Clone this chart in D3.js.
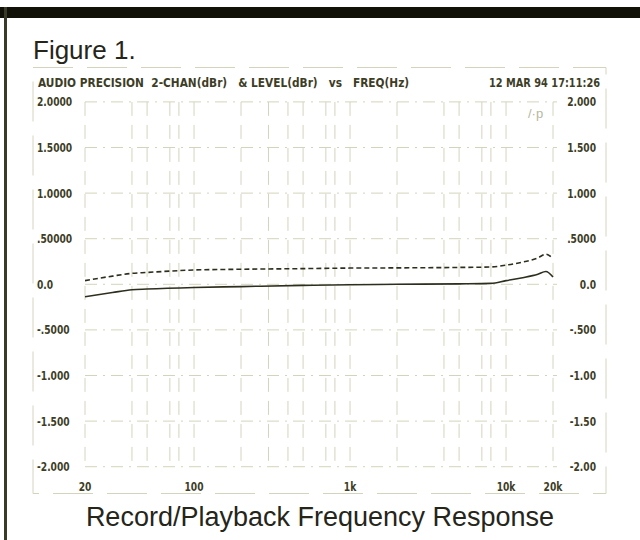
<!DOCTYPE html>
<html>
<head>
<meta charset="utf-8">
<script src="https://cdn.jsdelivr.net/npm/d3@7"></script>
<style>
  html, body { margin: 0; padding: 0; background: #ffffff; }
  svg { display: block; }
  .narrow { font-family: "Liberation Sans Narrow", "DejaVu Sans Condensed", "Arial Narrow", Arial, sans-serif; font-weight: bold; font-stretch: condensed; }
  .big { font-family: "Liberation Sans", Arial, Helvetica, sans-serif; }
</style>
</head>
<body>
<script>
// ---- data ----
const freqs  = [20, 30, 40, 50, 100, 200, 500, 1000, 2000, 5000, 8000, 10000, 12500, 16000, 18000, 20000];
const levelSolid  = [-0.136, -0.09, -0.06, -0.052, -0.035, -0.025, -0.012, -0.005, 0.0, 0.005, 0.01, 0.04, 0.07, 0.11, 0.14, 0.08];
const levelDashed = [0.04, 0.09, 0.12, 0.13, 0.157, 0.165, 0.172, 0.178, 0.18, 0.185, 0.19, 0.21, 0.24, 0.29, 0.33, 0.28];

const yTicks = [2, 1.5, 1, 0.5, 0, -0.5, -1, -1.5, -2];
const yLabelsLeft  = ["2.0000", "1.5000", "1.0000", ".50000", "0.0", "-.5000", "-1.000", "-1.500", "-2.000"];
const yLabelsRight = ["2.000", "1.500", "1.000", ".5000", "0.0", "-.500", "-1.00", "-1.50", "-2.00"];
const xTicks = [20, 100, 1000, 10000, 20000];
const xLabels = ["20", "100", "1k", "10k", "20k"];
const gridFreqs = [20, 40, 50, 70, 80, 100, 200, 300, 400, 500, 700, 800, 1000, 2000, 4000, 5000, 7000, 8000, 10000, 20000];

const headerText = "AUDIO PRECISION  2-CHAN(dBr)   & LEVEL(dBr)   vs   FREQ(Hz)";
const dateText = "12 MAR 94 17:11:26";
const figTitle = "Figure 1.";
const caption = "Record/Playback Frequency Response";

// ---- layout ----
const W = 640, H = 540;
const svg = d3.select("body").append("svg").attr("width", W).attr("height", H);
svg.append("rect").attr("width", W).attr("height", H).attr("fill", "#ffffff");

const x = d3.scaleLog().domain([20, 20000]).range([85, 553]);
const y = d3.scaleLinear().domain([-2, 2]).range([466.7, 101.9]);

const gridColor = "#d4d4bc";
const textColor = "#3d3d26";
const lineColor = "#2e2e1f";

// squeeze helper for condensed text
function squeeze(sel, factor) {
  sel.each(function () {
    const len = this.getComputedTextLength();
    d3.select(this).attr("textLength", len * factor).attr("lengthAdjust", "spacingAndGlyphs");
  });
}

// top black bar and left border
svg.append("rect").attr("x", 0).attr("y", 7).attr("width", W).attr("height", 11).attr("fill", "#111108");
svg.append("rect").attr("x", 4).attr("y", 7).attr("width", 3).attr("height", H - 7).attr("fill", "#3a3a28");

// outer dashed frame
svg.append("rect").attr("x", 33).attr("y", 67.5).attr("width", 573).attr("height", 426)
  .attr("fill", "none").attr("stroke", gridColor).attr("stroke-width", 1)
  .attr("stroke-dasharray", "40,14");

// grid
const g = svg.append("g");
g.selectAll("line.v").data(gridFreqs).join("line").attr("class", "v")
  .attr("x1", d => x(d)).attr("x2", d => x(d))
  .attr("y1", y(2)).attr("y2", y(-2))
  .attr("stroke", gridColor).attr("stroke-width", 1)
  .attr("stroke-dasharray", "14,9");
g.selectAll("line.h").data(yTicks).join("line").attr("class", "h")
  .attr("x1", x(20)).attr("x2", x(20000) + 4)
  .attr("y1", d => y(d)).attr("y2", d => y(d))
  .attr("stroke", gridColor).attr("stroke-width", 1)
  .attr("stroke-dasharray", "12,6,2,6");

// stray annotation
svg.append("text").attr("x", 528).attr("y", 118).attr("fill", "#b8b8a0")
  .attr("font-size", 13).attr("class", "big").text("/·p");

// header texts
svg.append("text").attr("class", "big").attr("x", 33).attr("y", 59)
  .attr("font-size", 26).attr("fill", "#25251a").text(figTitle);
const hdr = svg.append("text").attr("class", "narrow").attr("x", 38).attr("y", 87)
  .attr("font-size", 12.5).attr("fill", textColor)
  .style("white-space", "pre").text(headerText);
squeeze(hdr, 0.94);
const dt = svg.append("text").attr("class", "narrow").attr("x", 600).attr("y", 87)
  .attr("text-anchor", "end")
  .attr("font-size", 12.5).attr("fill", textColor).text(dateText);
squeeze(dt, 0.87);

// y labels
const yl = svg.selectAll("text.yl").data(yTicks).join("text").attr("class", "narrow yl")
  .attr("x", 37).attr("y", d => y(d)).attr("dy", "0.35em")
  .attr("font-size", 13).attr("fill", textColor)
  .text((d, i) => yLabelsLeft[i]);
squeeze(yl, 0.78);
const yr = svg.selectAll("text.yr").data(yTicks).join("text").attr("class", "narrow yr")
  .attr("x", 596).attr("y", d => y(d)).attr("dy", "0.35em")
  .attr("text-anchor", "end")
  .attr("font-size", 13).attr("fill", textColor)
  .text((d, i) => yLabelsRight[i]);
squeeze(yr, 0.78);

// x labels
const xl = svg.selectAll("text.xl").data(xTicks).join("text").attr("class", "narrow xl")
  .attr("x", d => x(d)).attr("y", 491)
  .attr("text-anchor", "middle")
  .attr("font-size", 13).attr("fill", textColor)
  .text((d, i) => xLabels[i]);
squeeze(xl, 0.78);

// lines
const line = d3.line().x(d => x(d[0])).y(d => y(d[1])).curve(d3.curveMonotoneX);
svg.append("path").datum(freqs.map((f, i) => [f, levelDashed[i]]))
  .attr("d", line).attr("fill", "none").attr("stroke", lineColor)
  .attr("stroke-width", 1.6).attr("stroke-dasharray", "5,3");
svg.append("path").datum(freqs.map((f, i) => [f, levelSolid[i]]))
  .attr("d", line).attr("fill", "none").attr("stroke", lineColor)
  .attr("stroke-width", 1.6);

// caption
svg.append("text").attr("class", "big").attr("x", 320).attr("y", 526)
  .attr("text-anchor", "middle")
  .attr("font-size", 27).attr("fill", "#25251a").text(caption);
</script>
</body>
</html>
